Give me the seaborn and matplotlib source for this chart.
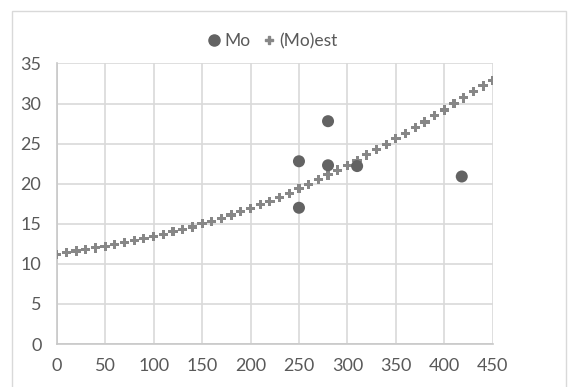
import seaborn as sns
import matplotlib
matplotlib.use('Agg')
import matplotlib.pyplot as plt
from matplotlib.lines import Line2D
from matplotlib.patches import Rectangle

# measured points
mo_x = [250, 250, 280, 280, 310, 418]
mo_y = [22.8, 17.0, 27.8, 22.3, 22.2, 20.9]

# estimated curve, one value every 10
est_x = list(range(0, 460, 10))
est_y = [11.2, 11.4, 11.6, 11.8, 12.0, 12.2, 12.4, 12.7, 12.9, 13.2,
         13.4, 13.7, 14.0, 14.3, 14.6, 15.0, 15.3, 15.7, 16.1, 16.5,
         16.9, 17.4, 17.8, 18.3, 18.8, 19.4, 19.9, 20.5, 21.1, 21.7,
         22.3, 22.9, 23.6, 24.3, 24.9, 25.6, 26.3, 27.0, 27.7, 28.5,
         29.2, 30.0, 30.7, 31.5, 32.2, 32.9]

x_ticks = list(range(0, 451, 50))
y_ticks = list(range(0, 36, 5))

sns.set_theme(style='white')
plt.rcParams['font.family'] = ['Lato', 'DejaVu Sans']

fig = plt.figure(figsize=(5.75, 3.87), dpi=100)
ax = fig.add_axes([0.0986, 0.111, 0.7584, 0.725])

# chart outline
fig.patches.append(Rectangle((12 / 575, -0.05), (566 - 12) / 575, 1 - 11 / 387 + 0.05,
                             transform=fig.transFigure, fill=False,
                             edgecolor='#d9d9d9', linewidth=1))

sns.scatterplot(x=est_x, y=est_y, ax=ax, marker='P', s=45, color='#878787',
                edgecolor='none', zorder=3)
sns.scatterplot(x=mo_x, y=mo_y, ax=ax, marker='o', s=75, color='#636363',
                edgecolor='none', zorder=4)

ax.set_xlim(0, 450)
ax.set_ylim(0, 35)
ax.set_xticks(x_ticks)
ax.set_yticks(y_ticks)
ax.grid(True, color='#d9d9d9', linewidth=1.2)
ax.set_axisbelow(True)
for side in ['top', 'right']:
    ax.spines[side].set_visible(False)
for side in ['left', 'bottom']:
    ax.spines[side].set_color('#c8c8c8')
    ax.spines[side].set_linewidth(1.2)
ax.tick_params(axis='both', length=0, labelsize=13, colors='#595959')
ax.tick_params(axis='x', pad=10)
ax.tick_params(axis='y', pad=11)

handles = [Line2D([], [], marker='o', linestyle='none', color='#636363', markersize=8),
           Line2D([], [], marker='P', linestyle='none', color='#878787', markersize=6)]
fig.legend(handles, ['Mo', '(Mo)est'], loc='center', bbox_to_anchor=(0.472, 0.893),
           ncol=2, frameon=False, fontsize=12.5, labelcolor='#595959',
           handletextpad=0.1, columnspacing=0.6, handlelength=1.0)

fig.savefig('out.png', dpi=100)
